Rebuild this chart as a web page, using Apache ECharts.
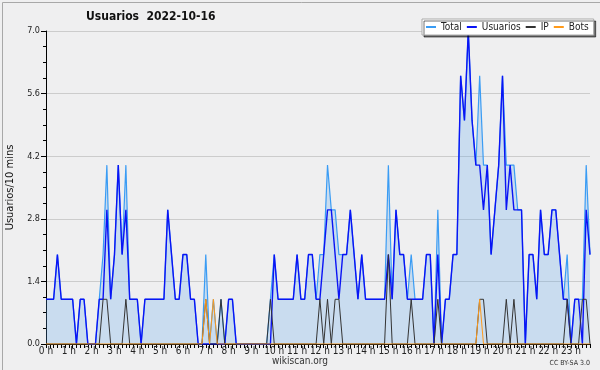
<!DOCTYPE html>
<html><head><meta charset="utf-8">
<script src="https://cdn.jsdelivr.net/npm/echarts@6/dist/echarts.min.js"></script>
<style>html,body{margin:0;padding:0;background:#efeff0;}#c{width:600px;height:370px;}</style>
</head><body><div id="c"></div>
<script>
var hourLabels = ['0 h','1 h','2 h','3 h','4 h','5 h','6 h','7 h','8 h','9 h','10 h','11 h','12 h','13 h','14 h','15 h','16 h','17 h','18 h','19 h','20 h','21 h','22 h','23 h'];
var yTicks = [0, 1.4, 2.8, 4.2, 5.6, 7.0];
var total = [
1,1,1,2,1,1,1,1,0,1,
1,0,0,0,1,2,4,1,2,4,
2,4,1,1,1,0,1,1,1,1,
1,1,3,2,1,1,2,2,1,1,
0,0,2,0,1,0,1,0,1,1,
0,0,0,0,0,0,0,0,0,1,
2,1,1,1,1,1,2,1,1,2,
2,1,2,2,4,3,3,2,2,2,
3,2,1,2,1,1,1,1,1,1,
4,1,3,2,2,1,2,1,1,1,
2,2,0,3,0,1,1,2,2,6,
5,7,5,4,6,4,4,2,3,4,
6,4,4,4,3,3,0,2,2,1,
3,2,2,3,3,2,1,2,0,1,
1,1,4,2];
var usuarios = [
1,1,1,2,1,1,1,1,0,1,
1,0,0,0,1,1,3,1,2,4,
2,3,1,1,1,0,1,1,1,1,
1,1,3,2,1,1,2,2,1,1,
0,0,0,0,0,0,0,0,1,1,
0,0,0,0,0,0,0,0,0,0,
2,1,1,1,1,1,2,1,1,2,
2,1,1,2,3,3,2,1,2,2,
3,2,1,2,1,1,1,1,1,1,
2,1,3,2,2,1,1,1,1,1,
2,2,0,2,0,1,1,2,2,6,
5,7,5,4,4,3,4,2,3,4,
6,3,4,3,3,3,0,2,2,1,
3,2,2,3,3,2,1,1,0,1,
1,0,3,2];
var ip = [
0,0,0,0,0,0,0,0,0,0,
0,0,0,0,0,1,1,0,0,0,
0,1,0,0,0,0,0,0,0,0,
0,0,0,0,0,0,0,0,0,0,
0,0,1,0,0,0,1,0,0,0,
0,0,0,0,0,0,0,0,0,1,
0,0,0,0,0,0,0,0,0,0,
0,0,1,0,1,0,1,1,0,0,
0,0,0,0,0,0,0,0,0,0,
2,0,0,0,0,0,1,0,0,0,
0,0,0,1,0,0,0,0,0,0,
0,0,0,0,1,1,0,0,0,0,
0,1,0,1,0,0,0,0,0,0,
0,0,0,0,0,0,0,1,0,0,
0,1,1,0];
var bots = [
0,0,0,0,0,0,0,0,0,0,
0,0,0,0,0,0,0,0,0,0,
0,0,0,0,0,0,0,0,0,0,
0,0,0,0,0,0,0,0,0,0,
0,0,1,0,1,0,0,0,0,0,
0,0,0,0,0,0,0,0,0,0,
0,0,0,0,0,0,0,0,0,0,
0,0,0,0,0,0,0,0,0,0,
0,0,0,0,0,0,0,0,0,0,
0,0,0,0,0,0,0,0,0,0,
0,0,0,0,0,0,0,0,0,0,
0,0,0,0,1,0,0,0,0,0,
0,0,0,0,0,0,0,0,0,0,
0,0,0,0,0,0,0,0,0,0,
0,0,0,0];

var slots = [];
for (var h = 0; h < hourLabels.length; h++) { for (var m = 0; m < 6; m++) slots.push(h * 6 + m); }

var FONT = '"DejaVu Sans Condensed", "DejaVu Sans"';
var chart = echarts.init(document.getElementById('c'), null, {renderer: 'canvas'});
chart.setOption({
  backgroundColor: '#efeff0',
  animation: false,
  textStyle: {fontFamily: FONT},
  title: {
    text: 'Usuarios  2022-10-16', left: 86, top: 11, padding: 0,
    textStyle: {fontFamily: FONT, fontSize: 12, fontWeight: 'bold', color: '#111'}
  },
  legend: {
    left: 422, top: 19, icon: 'rect', itemWidth: 10, itemHeight: 2, itemGap: 5,
    padding: [3, 5, 3, 4],
    backgroundColor: '#ffffff', borderColor: '#aaaaaa', borderWidth: 1,
    shadowColor: 'rgba(0,0,0,0.55)', shadowOffsetX: 2, shadowOffsetY: 2, shadowBlur: 0,
    textStyle: {fontFamily: FONT, fontSize: 10, color: '#222'},
    data: ['Total', 'Usuarios', 'IP', 'Bots']
  },
  grid: {left: 46, right: 10, top: 31, bottom: 26, containLabel: false, outerBoundsMode: 'none'},
  xAxis: {
    type: 'category', data: slots, boundaryGap: false,
    axisLine: {lineStyle: {color: '#000', width: 1}},
    axisTick: {show: true, interval: 0, length: 4, lineStyle: {color: '#000'}},
    axisLabel: {
      interval: function (i) { return i % 6 === 0; },
      formatter: function (v, i) { return hourLabels[Math.floor(i / 6)]; },
      fontFamily: FONT, fontSize: 10, color: '#222', margin: 2
    },
    splitLine: {show: false}
  },
  yAxis: {
    type: 'value', min: yTicks[0], max: yTicks[yTicks.length - 1], interval: 1.4,
    name: 'Usuarios/10 mins', nameLocation: 'middle', nameRotate: 90, nameGap: 30,
    nameTextStyle: {fontFamily: FONT, fontSize: 11, color: '#111'},
    axisLine: {show: true, lineStyle: {color: '#000', width: 1}},
    axisTick: {show: true, length: 5, lineStyle: {color: '#000'}},
    minorTick: {show: true, splitNumber: 4, length: 3, lineStyle: {color: '#000'}},
    axisLabel: {formatter: function (v) { return v.toFixed(1); }, fontFamily: FONT, fontSize: 9, color: '#222', margin: 6},
    splitLine: {show: true, lineStyle: {color: '#cccccc', width: 1}}
  },
  series: [
    {name: 'Total', type: 'line', data: total, showSymbol: false, color: '#3a9cf4',
     lineStyle: {color: '#3a9cf4', width: 1.2},
     areaStyle: {color: 'rgba(88,164,236,0.36)', origin: 'start'}, z: 2},
    {name: 'Usuarios', type: 'line', data: usuarios, showSymbol: false, color: '#0a14f5',
     lineStyle: {color: '#0a14f5', width: 1.4}, z: 3},
    {name: 'IP', type: 'line', data: ip, showSymbol: false, color: '#333333',
     lineStyle: {color: '#333333', width: 1}, z: 4},
    {name: 'Bots', type: 'line', data: bots, showSymbol: false, color: '#ff9a1a',
     lineStyle: {color: '#ff9a1a', width: 1}, z: 5}
  ],
  graphic: [
    {type: 'rect', left: 0, top: 0, shape: {width: 599, height: 369}, style: {fill: null, stroke: '#a8a8a8', lineWidth: 1}, silent: true, z: 100},
    {type: 'text', left: 'center', top: 356, style: {text: 'wikiscan.org', font: '10px "DejaVu Sans Condensed", "DejaVu Sans"', fill: '#333'}},
    {type: 'text', right: 10, top: 360, style: {text: 'CC BY-SA 3.0', font: '7px "DejaVu Sans Condensed", "DejaVu Sans"', fill: '#333'}}
  ]
});
</script></body></html>
